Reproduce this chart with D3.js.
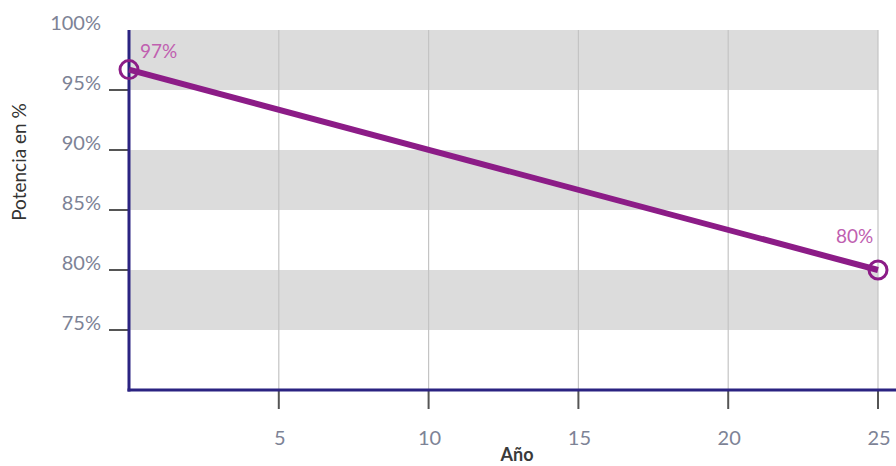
<!DOCTYPE html>
<html><head><meta charset="utf-8">
<script src="https://cdn.jsdelivr.net/npm/d3@7"></script>
<style>body{margin:0;background:#fff}svg{display:block;font-family:Lato,"Open Sans",sans-serif}</style>
</head><body><svg id="c" width="896" height="466"></svg>
<script>
const years = [0, 25];
const potencia = [96.7, 80];
const pointLabels = ["97%", "80%"];
const yTicks = [75, 80, 85, 90, 95];
const yTickLabels = ["75%", "80%", "85%", "90%", "95%", "100%"];
const yLabelValues = [75, 80, 85, 90, 95, 100];
const xTicks = [5, 10, 15, 20, 25];
const bands = [[75, 80], [85, 90], [95, 100]];

const svg = d3.select("#c");
const x = d3.scaleLinear().domain([0, 25]).range([129, 878]);
const y = d3.scaleLinear().domain([70, 100]).range([390, 30]);

svg.selectAll("rect.band").data(bands).join("rect")
  .attr("x", x(0)).attr("width", x(25) - x(0))
  .attr("y", d => y(d[1])).attr("height", d => y(d[0]) - y(d[1]))
  .attr("fill", "#dcdcdc");

svg.selectAll("line.grid").data(xTicks).join("line")
  .attr("x1", d => x(d)).attr("x2", d => x(d))
  .attr("y1", y(100)).attr("y2", y(70))
  .attr("stroke", "#c4c4c4").attr("stroke-width", 1.2);

svg.selectAll("line.yt").data(yTicks).join("line")
  .attr("x1", x(0) - 20).attr("x2", x(0))
  .attr("y1", d => y(d)).attr("y2", d => y(d))
  .attr("stroke", "#555").attr("stroke-width", 2);

svg.selectAll("text.yl").data(yLabelValues).join("text")
  .attr("x", 101).attr("y", d => y(d))
  .attr("text-anchor", "end").attr("font-size", 20)
  .attr("fill", "#7d8396").text((d, i) => yTickLabels[i]);

svg.selectAll("line.xt").data(xTicks).join("line")
  .attr("x1", d => x(d)).attr("x2", d => x(d))
  .attr("y1", y(70)).attr("y2", y(70) + 19)
  .attr("stroke", "#555").attr("stroke-width", 2);

svg.selectAll("text.xl").data(xTicks).join("text")
  .attr("x", d => x(d) + 1).attr("y", 445)
  .attr("text-anchor", "middle").attr("font-size", 20)
  .attr("fill", "#7d8396").text(d => d);

svg.append("line").attr("x1", x(0)).attr("x2", x(0)).attr("y1", y(100)).attr("y2", y(70) + 1.5)
  .attr("stroke", "#2b2381").attr("stroke-width", 3);
svg.append("line").attr("x1", x(0) - 1.5).attr("x2", 896).attr("y1", y(70)).attr("y2", y(70))
  .attr("stroke", "#2b2381").attr("stroke-width", 3);

svg.append("text").attr("x", 517).attr("y", 461).attr("text-anchor", "middle")
  .attr("font-size", 18).attr("font-weight", 700).attr("fill", "#3a3a3a").text("Año");
svg.append("text").attr("transform", "translate(26,162) rotate(-90)")
  .attr("text-anchor", "middle").attr("font-size", 19).attr("fill", "#333").text("Potencia en %");

const pts = years.map((d, i) => [d, potencia[i]]);
svg.append("path").datum(pts)
  .attr("d", d3.line().x(d => x(d[0])).y(d => y(d[1])))
  .attr("fill", "none").attr("stroke", "#8c1c87").attr("stroke-width", 6);

svg.selectAll("circle.pt").data(pts).join("circle")
  .attr("cx", d => x(d[0])).attr("cy", d => y(d[1])).attr("r", 9)
  .attr("fill", "none").attr("stroke", "#8c1c87").attr("stroke-width", 3);

svg.selectAll("text.pl").data(pts).join("text")
  .attr("x", (d, i) => i === 0 ? x(d[0]) + 11 : x(d[0]) - 42)
  .attr("y", (d, i) => i === 0 ? y(d[1]) - 12 : y(d[1]) - 27)
  .attr("font-size", 19).attr("fill", "#c060b0").text((d, i) => pointLabels[i]);
</script></body></html>
